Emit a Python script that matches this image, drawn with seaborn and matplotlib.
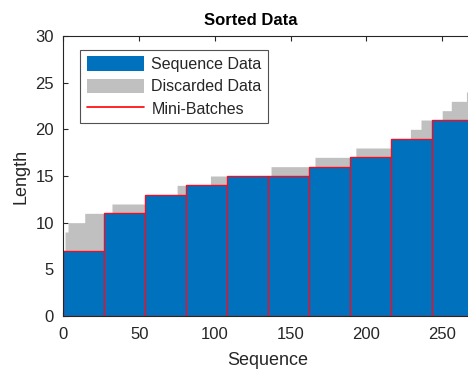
import numpy as np
import pandas as pd
import matplotlib
matplotlib.use("Agg")
import matplotlib.pyplot as plt
from matplotlib.patches import Patch
from matplotlib.lines import Line2D
import seaborn as sns

# ---- data ----
# sorted sequence lengths, as runs: (length, first sequence index)
run_lengths = [7, 9, 10, 11, 11, 12, 13, 14, 14, 15, 15, 16, 16, 17, 17, 18, 19, 20, 21, 21, 22, 23, 24]
run_starts = [0, 1, 3, 14, 27, 32, 54, 75, 81, 97, 108, 137, 162, 166, 189, 193, 216, 229, 236, 243, 250, 256, 266]
num_sequences = 270

# mini-batches (edges in sequence index) and their truncated length
batch_edges = [0, 27, 54, 81, 108, 135, 162, 189, 216, 243, 270]
batch_lengths = [7, 11, 13, 14, 15, 15, 16, 17, 19, 21]

x_ticks = [0, 50, 100, 150, 200, 250]
y_ticks = [0, 5, 10, 15, 20, 25, 30]

title = "Sorted Data"
x_label = "Sequence"
y_label = "Length"
legend_labels = ["Sequence Data", "Discarded Data", "Mini-Batches"]

# ---- build tables ----
run_counts = np.diff(run_starts + [num_sequences])
seq_len = np.repeat(run_lengths, run_counts)
seq_df = pd.DataFrame({"seq": np.arange(num_sequences) + 0.5, "length": seq_len})
batch_df = pd.DataFrame({
    "center": (np.array(batch_edges[:-1]) + np.array(batch_edges[1:])) / 2,
    "length": batch_lengths,
})

blue = "#0072BD"
gray = "#C0C0C0"
dark = "#262626"

sns.set_theme(style="white")
plt.rcParams["font.family"] = ["Liberation Sans", "DejaVu Sans"]

fig = plt.figure(figsize=(4.68, 3.70), dpi=100)
ax = fig.add_axes([63.5 / 468, 54 / 370, (472.5 - 63.5) / 468, 280 / 370])

sns.histplot(data=seq_df, x="seq", weights="length", binwidth=1, binrange=(0, num_sequences),
             element="step", fill=True, color=gray, alpha=1, linewidth=0, ax=ax)
sns.histplot(data=batch_df, x="center", weights="length", bins=list(batch_edges),
             element="bars", fill=True, color=blue, alpha=1, edgecolor="#E8102A",
             linewidth=1.0, ax=ax)

ax.set_xlim(0, num_sequences)
ax.set_ylim(0, 30)
ax.set_xticks(x_ticks)
ax.set_yticks(y_ticks)
ax.tick_params(direction="in", length=3.5, width=0.8, colors=dark, labelsize=12,
               top=True, right=True, bottom=True, left=True)
ax.tick_params(axis="x", pad=8)
ax.tick_params(axis="y", pad=7)
for s in ax.spines.values():
    s.set_color(dark)
    s.set_linewidth(0.8)

ax.set_xlabel(x_label, fontsize=13, color=dark, labelpad=7)
ax.set_ylabel(y_label, fontsize=13, color=dark, labelpad=4)
ax.set_title(title, fontsize=12, fontweight="bold", color="black", x=(251 - 63.5) / 409, pad=8)

handles = [
    Patch(facecolor=blue, edgecolor="none"),
    Patch(facecolor=gray, edgecolor="none"),
    Line2D([0], [0], color="red", linewidth=1.2),
]
leg = ax.legend(handles, legend_labels, loc="upper left", bbox_to_anchor=(0.041, 0.95),
                borderaxespad=0, fontsize=11.5, frameon=True, fancybox=False,
                handlelength=3.6, handleheight=1.0, handletextpad=0.45,
                labelspacing=0.42, borderpad=0.4)
leg.get_frame().set_edgecolor(dark)
leg.get_frame().set_linewidth(0.8)
for t in leg.get_texts():
    t.set_color(dark)

fig.savefig("out.png", dpi=100)
